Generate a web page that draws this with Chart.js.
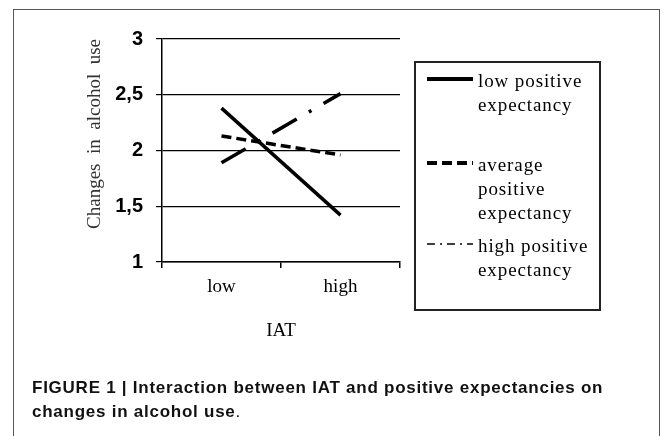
<!DOCTYPE html>
<html>
<head>
<meta charset="utf-8">
<script src="https://cdn.jsdelivr.net/npm/chart.js@4.4.1/dist/chart.umd.min.js"></script>
<style>
  html, body { margin: 0; padding: 0; background: #fff; }
  #wrap { position: relative; width: 671px; height: 436px; overflow: hidden; }
  #frame { position: absolute; left: 13px; top: 9px; width: 647px; height: 460px; border: 1.5px solid #555; box-sizing: border-box; }
  #myChart { position: absolute; left: 0; top: 0; }
  #caption { position: absolute; left: 32px; top: 376px; width: 630px; font: bold 17px "Liberation Sans", Arial, sans-serif; letter-spacing: 0.75px; line-height: 24px; color: #111; white-space: nowrap; }
  #caption span { font-weight: normal; }
</style>
</head>
<body>
<div id="wrap">
  <div id="frame"></div>
  <canvas id="myChart" width="671" height="436"></canvas>
  <div id="caption">FIGURE 1 | Interaction between IAT and positive expectancies on<br>changes in alcohol use<span>.</span></div>
</div>
<script>
const iatLevels = ['low', 'high'];
const lowExpectancy = [2.38, 1.42];
const averageExpectancy = [2.13, 1.96];
const highExpectancy = [1.89, 2.51];
const seriesLabels = [['low positive', 'expectancy'], ['average', 'positive', 'expectancy'], ['high positive', 'expectancy']];

const serif = '"Liberation Serif", "Times New Roman", serif';
const sans = '"Liberation Sans", Arial, sans-serif';

// legend drawn by hand: boxed, multi-line entries
const boxLegend = {
  id: 'boxLegend',
  afterDraw(chart) {
    const ctx = chart.ctx;
    const x = chart.chartArea.right + 15;
    const top = 62, w = 185, h = 248;
    ctx.save();
    ctx.strokeStyle = '#222';
    ctx.lineWidth = 2;
    ctx.strokeRect(x, top, w, h);
    const baselines = [87, 171, 252];
    const samples = [
      { width: 4, dash: [] },
      { width: 4, dash: [10, 5] },
      { width: 1.5, dash: [8, 5, 2, 5] }
    ];
    ctx.font = '19px ' + serif;
    ctx.fillStyle = '#000';
    ctx.textBaseline = 'alphabetic';
    ctx.textAlign = 'left';
    if ('letterSpacing' in ctx) ctx.letterSpacing = '0.9px';
    chart.data.datasets.forEach((ds, i) => {
      const y = baselines[i];
      ctx.beginPath();
      ctx.strokeStyle = '#000';
      ctx.lineWidth = samples[i].width;
      ctx.setLineDash(samples[i].dash);
      ctx.moveTo(x + 12, y - 8);
      ctx.lineTo(x + 58, y - 8);
      ctx.stroke();
      ds.label.forEach((line, j) => {
        ctx.fillText(line, x + 63, y + j * 24);
      });
    });
    ctx.restore();
  }
};

const ctx1 = document.getElementById('myChart').getContext('2d');
const alcoholChart = new Chart(ctx1, {
  type: 'line',
  data: {
    labels: iatLevels,
    datasets: [{
      label: seriesLabels[0],
      data: lowExpectancy,
      borderColor: '#000',
      borderWidth: 3.5,
      pointRadius: 0
    }, {
      label: seriesLabels[1],
      data: averageExpectancy,
      borderColor: '#000',
      borderWidth: 3.5,
      borderDash: [10, 5],
      pointRadius: 0
    }, {
      label: seriesLabels[2],
      data: highExpectancy,
      borderColor: '#000',
      borderWidth: 3.5,
      borderDash: [28, 14, 3, 14],
      pointRadius: 0
    }]
  },
  options: {
    responsive: false,
    animation: false,
    layout: {
      padding: { left: 74, right: 271, top: 39, bottom: 94 }
    },
    plugins: {
      legend: { display: false },
      tooltip: { enabled: false }
    },
    scales: {
      x: {
        offset: true,
        afterFit(scale) { scale.height = 80; },
        grid: {
          offset: true,
          drawOnChartArea: false,
          tickLength: 6,
          color: '#000',
          lineWidth: 1.5
        },
        border: { color: '#000', width: 1.5 },
        ticks: {
          padding: 8,
          color: '#000',
          font: { family: serif, size: 19 }
        },
        title: {
          display: true,
          text: 'IAT',
          color: '#000',
          padding: { top: 20, bottom: 0 },
          font: { family: serif, size: 19 }
        }
      },
      y: {
        min: 1,
        max: 3,
        afterFit(scale) { scale.width = 88; },
        grid: {
          color: '#000',
          lineWidth: 1.2,
          tickLength: 6
        },
        border: { color: '#000', width: 1.5 },
        ticks: {
          stepSize: 0.5,
          padding: 13,
          color: '#000',
          font: { family: sans, size: 20, weight: 'bold' },
          callback: value => String(value).replace('.', ',')
        },
        title: {
          display: true,
          text: 'Changes  in  alcohol  use',
          align: 'end',
          color: '#333',
          padding: { top: 10, bottom: 0 },
          font: { family: serif, size: 19 }
        }
      }
    }
  },
  plugins: [boxLegend]
});
</script>
</body>
</html>
